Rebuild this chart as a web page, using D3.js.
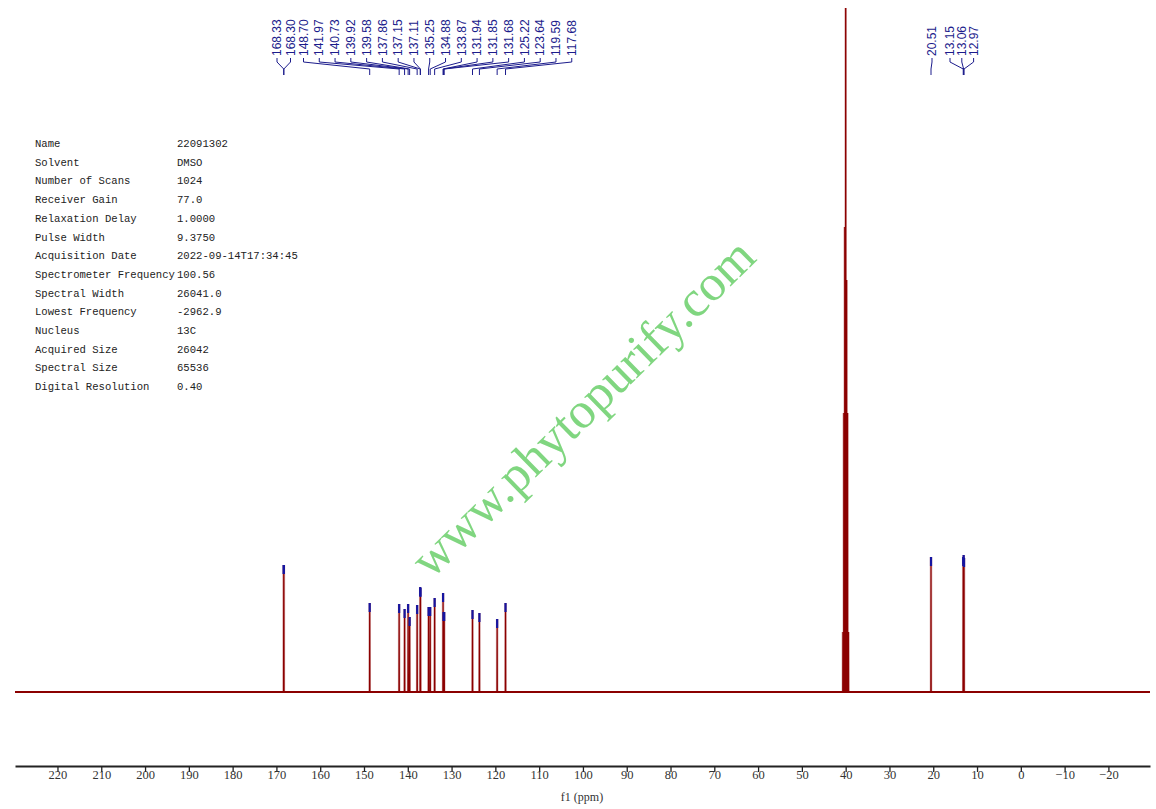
<!DOCTYPE html>
<html><head><meta charset="utf-8">
<script src="https://cdn.jsdelivr.net/npm/d3@7"></script>
<style>body{margin:0;background:#fff}svg{display:block}</style>
</head><body><svg id="c" width="1156" height="809"></svg>
<script>
// ---- data ----
const peakPpm    = [168.33,168.30,148.70,141.97,140.73,139.92,139.58,137.86,137.15,137.11,135.25,134.88,133.87,131.94,131.85,131.68,125.22,123.64,119.59,117.68,20.51,13.15,13.06,12.97];
const peakHeight = [127,127,89,88,83,88,75,87,105,104,85,85,94,99,80,80,82,79,73,89,135,135,137,134];
const solventPpm    = [40.63,40.42,40.21,40.00,39.79,39.58,39.37];
const solventHeight = [60,279,465,900,412,279,60];
const labelGroups = [
  ["168.33","168.30"],
  ["148.70","141.97","140.73","139.92","139.58","137.86","137.15","137.11","135.25","134.88","133.87","131.94","131.85","131.68","125.22","123.64","119.59","117.68"],
  ["20.51"],
  ["13.15","13.06","12.97"]
];
const majorTicks = [220,210,200,190,180,170,160,150,140,130,120,110,100,90,80,70,60,50,40,30,20,10,0,-10,-20];
const minorTicks = [225,215,205,195,185,175,165,155,145,135,125,115,105,95,85,75,65,55,45,35,25,15,5,-5,-15,-25];
const paramNames  = ["Name","Solvent","Number of Scans","Receiver Gain","Relaxation Delay","Pulse Width","Acquisition Date","Spectrometer Frequency","Spectral Width","Lowest Frequency","Nucleus","Acquired Size","Spectral Size","Digital Resolution"];
const paramValues = ["22091302","DMSO","1024","77.0","1.0000","9.3750","2022-09-14T17:34:45","100.56","26041.0","-2962.9","13C","26042","65536","0.40"];
const axisTitle = "f1 (ppm)";
const watermark = "www.phytopurify.com";

// ---- layout ----
const svg = d3.select("#c");
const x = d3.scaleLinear().domain([229.7,-29.5]).range([15,1150]);
const y = d3.scaleLinear().domain([0,684]).range([692,8]);

// watermark
svg.append("text")
  .attr("transform","translate(431,580) rotate(-44.4)")
  .attr("font-family","'Liberation Serif','Times New Roman',serif")
  .attr("font-size",51)
  .attr("fill","#80d680")
  .text(watermark);

// parameter table
const tbl = svg.append("g").attr("font-family","'Liberation Mono','DejaVu Sans Mono',monospace")
  .attr("font-size",10.6).attr("fill","#222");
paramNames.forEach((n,i)=>{
  tbl.append("text").attr("x",35).attr("y",147+i*18.7).text(n);
  tbl.append("text").attr("x",177).attr("y",147+i*18.7).text(paramValues[i]);
});

// spectrum
svg.append("defs").append("clipPath").attr("id","clip")
  .append("rect").attr("x",0).attr("y",8).attr("width",1156).attr("height",700);
const all = peakPpm.map((p,i)=>({p,h:peakHeight[i]}))
  .concat(solventPpm.map((p,i)=>({p,h:solventHeight[i]})))
  .sort((a,b)=>b.p-a.p);
const pts = [[229.7,0]];
all.forEach(d=>{pts.push([d.p+0.04,0],[d.p,d.h],[d.p-0.04,0]);});
pts.push([-29.5,0]);
const g = svg.append("g").attr("clip-path","url(#clip)");
g.selectAll("line.halo").data(all).join("line").attr("class","halo")
  .attr("x1",d=>x(d.p)).attr("x2",d=>x(d.p))
  .attr("y1",y(0)).attr("y2",d=>y(d.h))
  .attr("stroke","#dcb0b0").attr("stroke-width",2.6);
g.append("path").datum(pts)
  .attr("d",d3.line().x(d=>x(d[0])).y(d=>y(d[1])))
  .attr("fill","none").attr("stroke","#8b0000").attr("stroke-width",1.2);
g.append("line").attr("x1",x(229.7)).attr("x2",x(-29.5)).attr("y1",y(0)).attr("y2",y(0))
  .attr("stroke","#8b0000").attr("stroke-width",2.2);

// peak markers
svg.selectAll("line.mk").data(peakPpm).join("line").attr("class","mk")
  .attr("x1",d=>x(d)).attr("x2",d=>x(d))
  .attr("y1",(d,i)=>y(peakHeight[i])).attr("y2",(d,i)=>y(peakHeight[i])+9)
  .attr("stroke","#1515a0").attr("stroke-width",2.2);

// peak labels
const labStart = [[277,13.5],[303.5,15.78],[932,0],[950,11.8]];
const lab = svg.append("g");
let k = 0;
labelGroups.forEach((grp,gi)=>{
  grp.forEach((t,j)=>{
    const lx = labStart[gi][0]+j*labStart[gi][1];
    const px = x(peakPpm[k]);
    lab.append("text").attr("transform",`translate(${lx+4.2},56) rotate(-90)`)
      .attr("font-family","'Liberation Sans',Arial,sans-serif").attr("font-size",12)
      .attr("fill","#1c1c8c").attr("text-anchor","start").text(t);
    lab.append("path").attr("d",`M${lx},58 L${lx},62 L${px},69 L${px},75`)
      .attr("fill","none").attr("stroke","#1c1c8c").attr("stroke-width",1);
    k++;
  });
});

// axis
const ax = svg.append("g").attr("transform","translate(0,766)");
ax.call(d3.axisBottom(x).tickValues(minorTicks).tickSize(4).tickSizeOuter(0).tickFormat(""));
ax.call(d3.axisBottom(x).tickValues(majorTicks).tickSize(6).tickSizeOuter(0)
  .tickFormat(d=>d<0?"\u2212"+(-d):String(d)));
ax.selectAll(".domain").attr("stroke","#222").attr("stroke-width",2);
ax.selectAll(".tick line").attr("stroke","#222").attr("stroke-width",1.3);
ax.selectAll(".tick text").attr("font-family","'Liberation Serif','Times New Roman',serif")
  .attr("font-size",12.5).attr("fill","#333").attr("dy","0.55em").attr("y",6);
svg.append("text").attr("x",582).attr("y",801).attr("text-anchor","middle")
  .attr("font-family","'Liberation Serif','Times New Roman',serif").attr("font-size",12)
  .attr("fill","#333").text(axisTitle);
</script></body></html>
